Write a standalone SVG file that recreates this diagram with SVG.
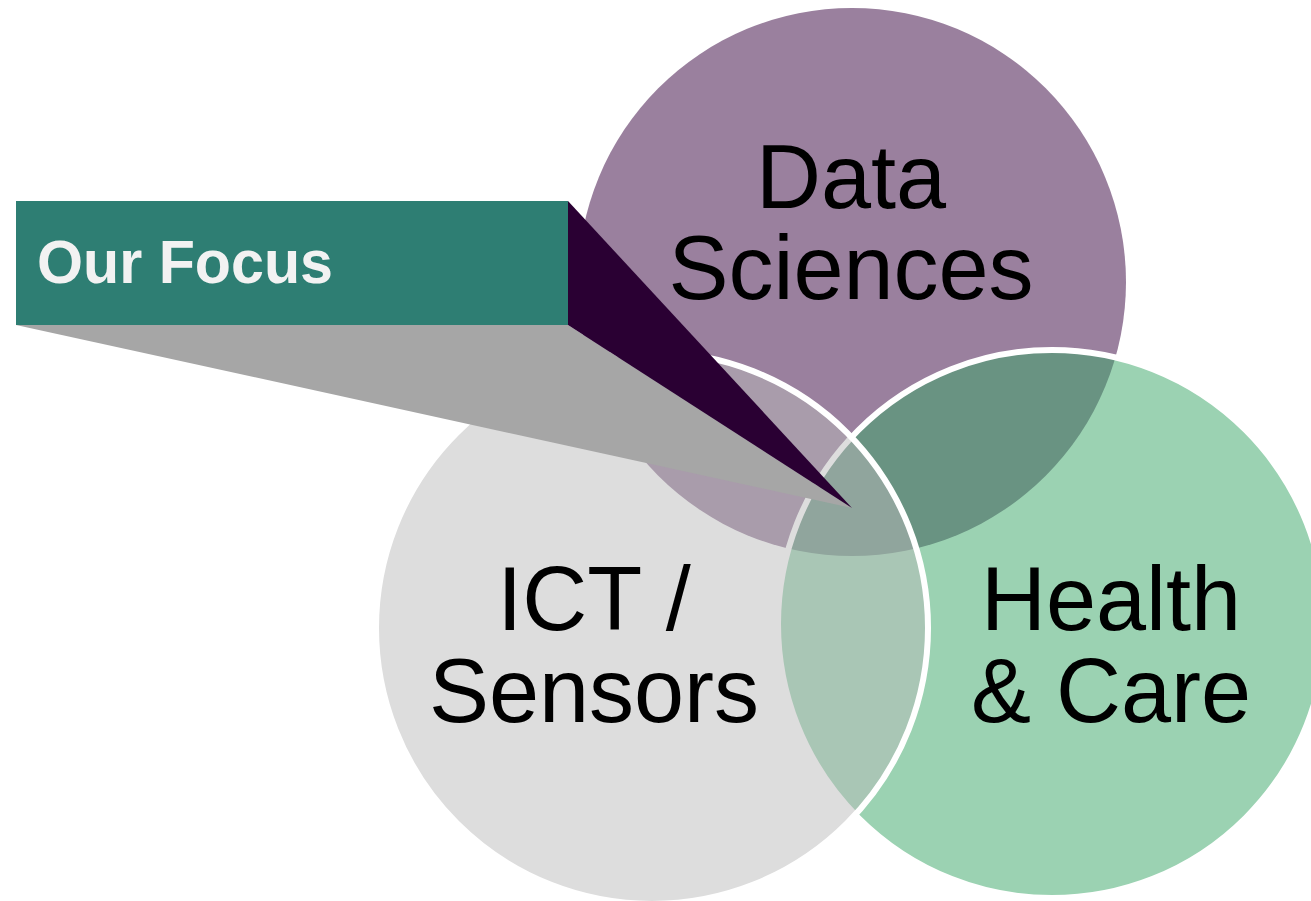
<svg xmlns="http://www.w3.org/2000/svg" width="1311" height="901" viewBox="0 0 1311 901">
  <style>
    .lbl { font-family: "Liberation Sans", Arial, sans-serif; font-size: 90px; fill: #000000; text-anchor: middle; }
    .focus { font-family: "Liberation Sans", Arial, sans-serif; font-size: 62px; font-weight: bold; fill: #F2F2F2; }
    .ring { stroke: #FFFFFF; stroke-width: 6; }
  </style>
  <rect x="0" y="0" width="1311" height="901" fill="#FFFFFF"/>

  <g id="node-data-sciences">
    <circle cx="852" cy="282" r="274" fill="#9A809E"/>
    <text class="lbl" x="851" y="208">Data</text>
    <text class="lbl" x="851" y="299">Sciences</text>
  </g>

  <g id="node-health-care">
    <circle class="ring" cx="1052" cy="624" r="274" fill="#37A565" fill-opacity="0.5"/>
    <text class="lbl" x="1111" y="630">Health</text>
    <text class="lbl" x="1111" y="722">&amp; Care</text>
  </g>

  <g id="node-ict-sensors">
    <circle class="ring" cx="652" cy="628" r="276" fill="#B9B9B9" fill-opacity="0.485"/>
    <text class="lbl" x="594" y="630">ICT /</text>
    <text class="lbl" x="594" y="722">Sensors</text>
  </g>

  <g id="connectors">
    <polygon points="16,325 568,325 852,508" fill="#A6A6A6"/>
    <polygon points="568,201 852,508 568,325" fill="#2A0033"/>
  </g>

  <g id="node-our-focus">
    <rect x="16" y="201" width="552" height="124" fill="#2E7E73"/>
    <text class="focus" x="37" y="283" textLength="296" lengthAdjust="spacingAndGlyphs">Our Focus</text>
  </g>
</svg>
